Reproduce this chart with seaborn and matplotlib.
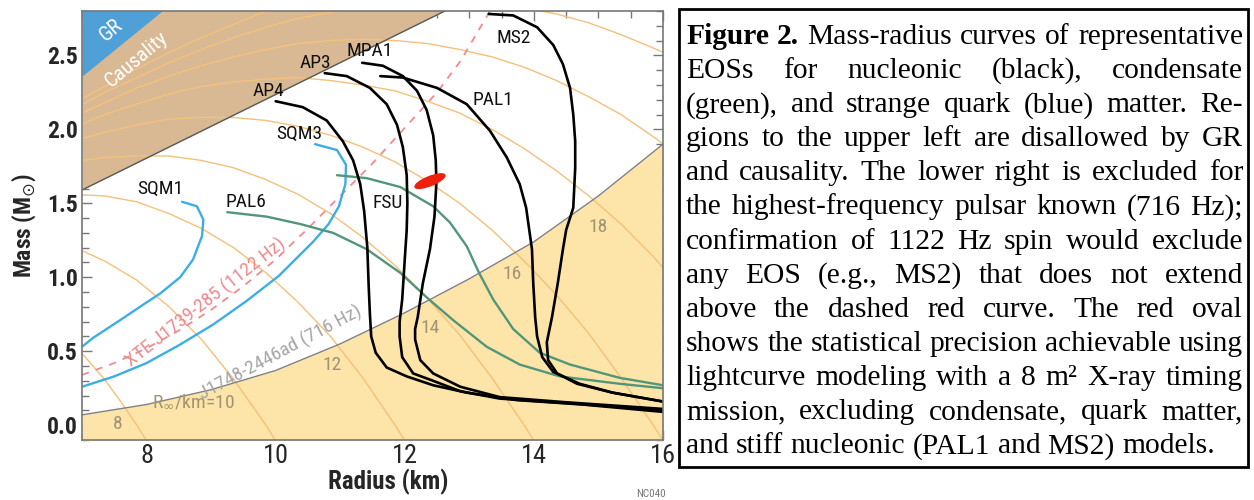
import matplotlib
matplotlib.use("Agg")
import matplotlib.pyplot as plt
import matplotlib.transforms as mtransforms
from matplotlib import font_manager
from matplotlib.patches import Ellipse, Rectangle
from matplotlib.ticker import MultipleLocator
import seaborn as sns

# mass-radius curves: radius (km) and mass (solar masses)
ap4_r = [10.0, 10.42, 10.79, 11.04, 11.2, 11.31, 11.37, 11.42, 11.44, 11.46, 11.48, 11.55, 11.72, 12.03, 12.44, 12.96, 13.73, 14.75, 16.0]
ap4_m = [2.19, 2.15, 2.06, 1.92, 1.79, 1.63, 1.45, 1.20, 0.95, 0.75, 0.60, 0.49, 0.39, 0.33, 0.27, 0.22, 0.17, 0.14, 0.09]
ap3_r = [10.76, 11.1, 11.46, 11.72, 11.88, 11.97, 12.03, 12.04, 12.03, 12.01, 11.96, 11.92, 11.92, 11.96, 12.13, 12.44, 12.86, 13.47, 14.5, 16.0]
ap3_m = [2.38, 2.36, 2.28, 2.17, 2.03, 1.88, 1.69, 1.50, 1.32, 1.19, 0.85, 0.70, 0.60, 0.46, 0.35, 0.30, 0.23, 0.18, 0.15, 0.10]
mpa1_r = [11.34, 11.66, 11.97, 12.19, 12.34, 12.44, 12.48, 12.49, 12.46, 12.39, 12.28, 12.2, 12.16, 12.16, 12.24, 12.44, 12.86, 13.47, 14.5, 16.0]
mpa1_m = [2.45, 2.43, 2.36, 2.26, 2.13, 1.96, 1.79, 1.64, 1.41, 1.19, 0.96, 0.73, 0.65, 0.58, 0.44, 0.35, 0.26, 0.19, 0.155, 0.11]
pal1_r = [11.62, 11.97, 12.5, 12.96, 13.32, 13.58, 13.78, 13.88, 13.97, 13.99, 14.02, 14.05, 14.13, 14.3, 14.71, 15.22, 16.0]
pal1_m = [2.36, 2.35, 2.28, 2.17, 1.99, 1.81, 1.63, 1.47, 1.19, 0.96, 0.73, 0.60, 0.46, 0.36, 0.28, 0.22, 0.16]
ms2_r = [13.3, 13.68, 14.05, 14.3, 14.45, 14.56, 14.61, 14.64, 14.64, 14.61, 14.5, 14.45, 14.37, 14.28, 14.2, 14.22, 14.36, 14.67, 15.22, 16.0]
ms2_m = [2.78, 2.77, 2.69, 2.57, 2.44, 2.28, 2.10, 1.92, 1.74, 1.47, 1.32, 1.19, 0.96, 0.73, 0.56, 0.44, 0.35, 0.28, 0.22, 0.16]
pal6_r = [9.25, 9.86, 10.38, 10.89, 11.41, 11.93, 12.35, 12.75, 13.27, 13.78, 14.4, 15.33, 16.0]
pal6_m = [1.44, 1.41, 1.36, 1.30, 1.19, 1.03, 0.86, 0.71, 0.53, 0.41, 0.33, 0.28, 0.25]
fsu_r = [10.95, 11.41, 11.93, 12.44, 12.7, 12.96, 13.15, 13.37, 13.68, 14.09, 14.56, 15.33, 16.0]
fsu_m = [1.69, 1.67, 1.61, 1.48, 1.37, 1.21, 1.03, 0.85, 0.65, 0.49, 0.41, 0.32, 0.27]
sqm1_r = [8.55, 8.78, 8.88, 8.86, 8.72, 8.52, 8.21, 8.0, 7.59, 7.17, 7.0]
sqm1_m = [1.51, 1.48, 1.39, 1.28, 1.12, 1.00, 0.89, 0.83, 0.71, 0.59, 0.53]
sqm3_r = [10.61, 10.95, 11.09, 11.08, 10.98, 10.82, 10.58, 10.05, 9.55, 9.03, 8.5, 8.0, 7.5, 7.0]
sqm3_m = [1.90, 1.86, 1.76, 1.63, 1.48, 1.36, 1.24, 1.01, 0.84, 0.68, 0.54, 0.42, 0.33, 0.26]

# excluded regions and spin limits
gr_r = [7.0, 8.4]
gr_m = [2.36, 2.857]
causality_r = [7.0, 12.9]
causality_m = [1.59, 2.86]
spin716_r = [7.0, 8.0, 9.0, 10.0, 11.0, 12.0, 13.0, 14.0, 15.0, 16.0]
spin716_m = [0.07, 0.14, 0.24, 0.37, 0.55, 0.76, 0.99, 1.24, 1.55, 1.90]
spin1122_r = [7.0, 7.5, 8.0, 8.5, 9.0, 9.5, 10.0, 10.5, 11.0, 11.5, 12.0, 12.5, 12.86, 13.32]
spin1122_m = [0.34, 0.42, 0.52, 0.64, 0.78, 0.94, 1.12, 1.33, 1.55, 1.77, 2.01, 2.25, 2.46, 2.80]

# constant R_inf contours (orange)
rinf08_r = [6.85, 7.35, 7.6, 7.85, 8.05]
rinf08_m = [0.56, 0.31, 0.16, 0.00, -0.14]
rinf10_r = [6.85, 7.35, 7.85, 8.35, 8.85, 9.35, 9.85, 10.05]
rinf10_m = [1.21, 1.11, 0.98, 0.80, 0.58, 0.31, 0.00, -0.14]
rinf12_r = [6.85, 7.35, 7.85, 8.35, 8.85, 9.35, 9.85, 10.35, 10.85, 11.35, 11.85, 12.05]
rinf12_m = [1.56, 1.55, 1.51, 1.43, 1.33, 1.20, 1.03, 0.83, 0.60, 0.32, 0.00, -0.14]
rinf14_r = [6.85, 7.35, 7.85, 8.35, 8.85, 9.35, 9.85, 10.35, 10.85, 11.35, 11.85, 12.35, 12.85, 13.35, 13.85, 14.05]
rinf14_m = [1.78, 1.81, 1.82, 1.82, 1.79, 1.74, 1.66, 1.56, 1.43, 1.27, 1.08, 0.86, 0.61, 0.32, 0.00, -0.14]
rinf16_r = [6.85, 7.35, 7.85, 8.35, 8.85, 9.35, 9.85, 10.35, 10.85, 11.35, 11.85, 12.35, 12.85, 13.35, 13.85, 14.35, 14.85, 15.35, 15.85, 16.05]
rinf16_m = [1.92, 1.98, 2.03, 2.07, 2.08, 2.08, 2.06, 2.02, 1.96, 1.88, 1.78, 1.65, 1.50, 1.32, 1.11, 0.88, 0.62, 0.32, 0.00, -0.14]
rinf_grid = [6.85, 7.35, 7.85, 8.35, 8.85, 9.35, 9.85, 10.35, 10.85, 11.35, 11.85, 12.35, 12.85, 13.35, 13.85, 14.35, 14.85, 15.35, 15.85, 16.35]
rinf18_m = [2.01, 2.10, 2.17, 2.24, 2.29, 2.32, 2.34, 2.35, 2.33, 2.30, 2.26, 2.19, 2.11, 2.00, 1.87, 1.72, 1.55, 1.36, 1.14, 0.89]
rinf20_m = [2.08, 2.18, 2.28, 2.36, 2.43, 2.49, 2.54, 2.58, 2.60, 2.61, 2.60, 2.58, 2.54, 2.49, 2.42, 2.33, 2.22, 2.10, 1.95, 1.79]
rinf22_m = [2.13, 2.25, 2.35, 2.45, 2.54, 2.62, 2.69, 2.75, 2.79, 2.83, 2.86, 2.87, 2.87, 2.85, 2.82, 2.78, 2.72, 2.64, 2.55, 2.45]
rinf24_m = [2.17, 2.29, 2.41, 2.52, 2.62, 2.71, 2.80, 2.88, 2.94]

# text labels: (text, radius, mass)
eos_labels = [("AP4", 9.88, 2.26), ("AP3", 10.61, 2.45), ("MPA1", 11.46, 2.53),
              ("MS2", 13.68, 2.62), ("PAL1", 13.37, 2.20), ("SQM3", 10.36, 1.97),
              ("SQM1", 8.22, 1.60), ("PAL6", 9.54, 1.51), ("FSU", 11.74, 1.50)]
rinf_labels = [("8", 7.56, 0.01), ("12", 10.87, 0.41), ("14", 12.39, 0.66),
               ("16", 13.66, 1.02), ("18", 14.99, 1.34)]

caption_lines = [
    "Figure 2. Mass-radius curves of representative",
    "EOSs for nucleonic (black), condensate",
    "(green), and strange quark (blue) matter. Re-",
    "gions to the upper left are disallowed by GR",
    "and causality. The lower right is excluded for",
    "the highest-frequency pulsar known (716 Hz);",
    "confirmation of 1122 Hz spin would exclude",
    "any EOS (e.g., MS2) that does not extend",
    "above the dashed red curve. The red oval",
    "shows the statistical precision achievable using",
    "lightcurve modeling with a 8 m\u00b2 X-ray timing",
    "mission, excluding condensate, quark matter,",
    "and stiff nucleonic (PAL1 and MS2) models.",
]

sns.set_theme(style="ticks")
names = {f.name for f in font_manager.fontManager.ttflist}
narrow = next((f for f in ["Liberation Sans Narrow", "Roboto Condensed", "DejaVu Sans Condensed"]
               if f in names), "Liberation Sans")
plt.rcParams["font.family"] = [narrow, "DejaVu Sans"]

W, H = 1254, 500
fig = plt.figure(figsize=(W / 100, H / 100), dpi=100)
ax = fig.add_axes([82 / W, 60 / H, 581 / W, 429 / H])

TAN, GRBLUE, YELLOW = "#d8b994", "#4fa0d7", "#fde4a8"
ORANGE = "#f5c07a"

ax.fill_between(spin716_r, -0.2, spin716_m, color=YELLOW, lw=0, zorder=1)
ax.fill_between(causality_r, causality_m, 3.0, color=TAN, lw=0, zorder=1)

for r, m in [(rinf08_r, rinf08_m), (rinf10_r, rinf10_m), (rinf12_r, rinf12_m),
             (rinf14_r, rinf14_m), (rinf16_r, rinf16_m), (rinf_grid, rinf18_m),
             (rinf_grid, rinf20_m), (rinf_grid, rinf22_m), (rinf_grid[:len(rinf24_m)], rinf24_m)]:
    sns.lineplot(x=r, y=m, sort=False, estimator=None, color=ORANGE, linewidth=1.0, ax=ax, zorder=2)

ax.fill_between(gr_r, gr_m, 3.0, color=GRBLUE, lw=0, zorder=2.2)
sns.lineplot(x=spin716_r, y=spin716_m, sort=False, estimator=None, color="#808080", linewidth=1.0, ax=ax, zorder=2.5)
sns.lineplot(x=causality_r, y=causality_m, sort=False, estimator=None, color="#5a5a5a", linewidth=1.0, ax=ax, zorder=2.5)
sns.lineplot(x=spin1122_r, y=spin1122_m, sort=False, estimator=None, color="#f08a90", linewidth=1.3,
             linestyle=(0, (4, 4)), ax=ax, zorder=3)

curves = [(sqm1_r, sqm1_m, "#3caee6"), (sqm3_r, sqm3_m, "#3caee6"),
          (pal6_r, pal6_m, "#52967a"), (fsu_r, fsu_m, "#52967a"),
          (ap4_r, ap4_m, "black"), (ap3_r, ap3_m, "black"), (mpa1_r, mpa1_m, "black"),
          (pal1_r, pal1_m, "black"), (ms2_r, ms2_m, "black")]
for r, m, c in curves:
    sns.lineplot(x=r, y=m, sort=False, estimator=None, color=c,
                 linewidth=1.9 if c == "black" else 1.7, ax=ax, zorder=4)

# red oval: measurement precision
oval_tr = fig.dpi_scale_trans + mtransforms.ScaledTranslation(12.39, 1.65, ax.transData)
ax.add_patch(Ellipse((0, 0), 0.32, 0.09, angle=22, transform=oval_tr, color="#f02010", zorder=5))

for txt, r, m in eos_labels:
    ax.text(r, m, txt, fontsize=14, ha="center", va="center", color="#111111", zorder=6)
for txt, r, m in rinf_labels:
    ax.text(r, m, txt, fontsize=14, ha="center", va="center", color="#a09472", zorder=6)
ax.text(8.73, 0.16, r"R$_{\infty}$/km=10", fontsize=14, ha="center", va="center", color="#a09472", zorder=6)
ax.text(10.08, 0.49, "J1748-2446ad (716 Hz)", fontsize=14, rotation=28, ha="center", va="center",
        color="#a6a6a6", zorder=6)
ax.text(8.92, 0.83, "XTE J1739-285 (1122 Hz)", fontsize=14, rotation=38, ha="center", va="center",
        color="#ee8a90", zorder=6)
ax.text(7.45, 2.67, "GR", fontsize=15, rotation=40, ha="center", va="center", color="white", zorder=6)
ax.text(7.84, 2.47, "Causality", fontsize=15, rotation=40, ha="center", va="center", color="white", zorder=6)

ax.set_xlim(7, 16)
ax.set_ylim(-0.1, 2.8)
ax.xaxis.set_minor_locator(MultipleLocator(0.5))
ax.yaxis.set_minor_locator(MultipleLocator(0.1))
ax.set_xticks([8, 10, 12, 14, 16])
ax.set_yticks([0.0, 0.5, 1.0, 1.5, 2.0, 2.5])
ax.set_yticklabels(["0.0", "0.5", "1.0", "1.5", "2.0", "2.5"], fontweight="bold")
ax.tick_params(which="both", direction="in", top=True, right=True, color="#777777", width=1.0)
ax.tick_params(which="major", length=7)
ax.tick_params(which="minor", length=5)
ax.tick_params(axis="x", labelsize=19, pad=3)
ax.tick_params(axis="y", labelsize=17, pad=3)
for s in ax.spines.values():
    s.set_color("#777777")
    s.set_linewidth(1.2)
    s.set_zorder(7)

ax.set_xlabel("Radius (km)", fontsize=18, fontweight="bold")
ax.set_ylabel(r"Mass (M$_{\odot}$)", fontsize=17, fontweight="bold")
ax.xaxis.set_label_coords((388 - 82) / 581, (440 - 469) / 429)
ax.yaxis.set_label_coords((38 - 82) / 581, 0.5)
fig.text(636 / W, 1 - 497 / H, "NC040", fontsize=8, color="#777777")

# caption box with justified text
fig.patches.append(Rectangle((679 / W, 1 - 467 / H), (1248 - 679) / W, (467 - 9) / H,
                             transform=fig.transFigure, fill=False, edgecolor="black", linewidth=2))
renderer = fig.canvas.get_renderer()
left_px, right_px = 686, 1243
probe = fig.text(0, 0, caption_lines[9], fontsize=20, family="Liberation Serif")
size = 20 * (right_px - left_px) / probe.get_window_extent(renderer).width
probe.remove()
for i, line in enumerate(caption_lines):
    y = 1 - (44 + 34.1 * i) / H
    words = line.split(" ")
    items = []
    for j, w in enumerate(words):
        bold = i == 0 and j < 2
        items.append(fig.text(0, y, w, fontsize=size, family="Liberation Serif",
                              fontweight="bold" if bold else "normal", va="baseline", color="black"))
    widths = [t.get_window_extent(renderer).width for t in items]
    if i < len(caption_lines) - 1:
        gap = (right_px - left_px - sum(widths)) / (len(items) - 1)
    else:
        gap = size * 100 / 72 * 0.25
    x = left_px
    for t, w in zip(items, widths):
        t.set_x(x / W)
        x += w + gap

fig.savefig("out.png", dpi=100, facecolor="white")
